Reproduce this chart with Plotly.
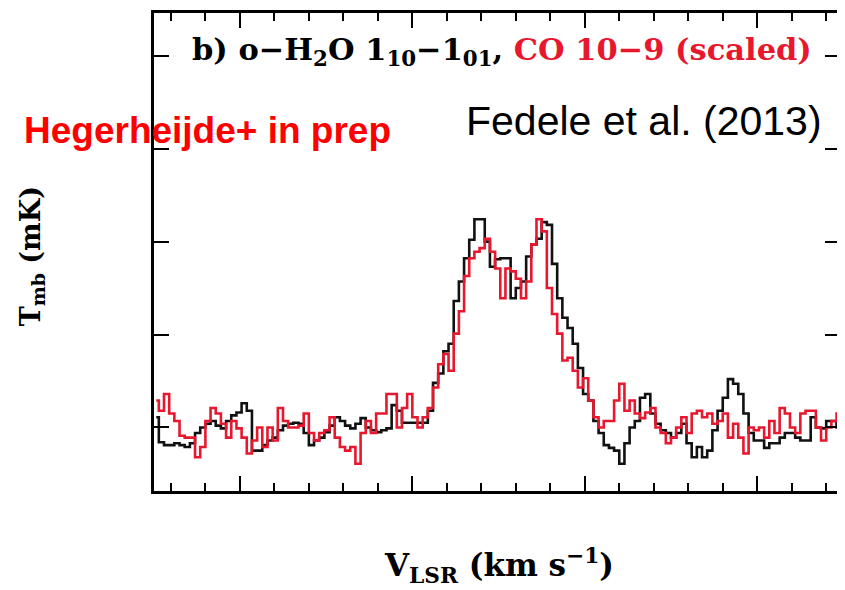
import plotly.graph_objects as go

# Spectral channel grid (km/s): channel centres
v_start = -7.425
dv = 0.15

# o-H2O 1_10-1_01 brightness temperature (mK)
t_h2o = [1.1, -1.6, -1.9, -1.9, -1.7, -1.9, -2.1, -1.7, -0.6, 0.0,
         0.4, 0.7, 0.2, -0.1, 0.7, 1.3, 1.6, 2.6, 1.8, -2.5,
         -2.5, -1.9, -1.4, -1.1, -0.3, 0.2, 0.4, 0.5, 0.4, -0.6,
         -1.9, -1.4, -1.1, -0.5, 0.2, 1.1, 0.7, 0.2, -0.1, 0.4,
         1.0, 0.0, -0.3, -0.5, -0.3, -0.1, 2.4, 1.8, 0.5, 0.5,
         0.5, 0.5, 0.5, 1.8, 4.8, 5.8, 8.2, 9.0, 13.6, 15.7,
         18.2, 20.2, 22.4, 22.4, 20.0, 17.3, 18.1, 18.2, 18.2, 13.9,
         15.0, 15.7, 18.4, 19.7, 20.3, 22.1, 21.8, 17.6, 13.9, 11.8,
         10.7, 9.0, 6.4, 3.6, 2.9, 0.7, -0.6, -1.9, -2.2, -2.5,
         -3.9, -1.7, 0.0, 0.7, 3.2, 3.6, 1.5, 0.4, -0.3, -0.6,
         -1.1, -0.6, 0.4, -1.7, -3.2, -2.1, -3.2, -2.5, -0.3, 1.8,
         3.2, 5.2, 4.7, 3.6, 1.5, -0.6, -1.4, -1.4, -2.2, -1.7,
         -1.7, -1.1, -0.6, -0.6, -1.1, -1.4, -1.4, 1.1, 0.0, -0.1,
         0.7, 0.7, 0.0]

# CO 10-9 (scaled) brightness temperature (mK)
t_co = [2.9, 1.8, 3.6, 1.5, 0.7, -0.9, -1.1, -1.1, -3.2, -2.1,
        0.7, 2.1, 1.5, 0.4, -1.1, 0.7, -0.1, -1.1, -2.8, -1.4,
        0.0, -2.1, 0.0, -1.4, 2.1, 0.7, 0.0, 0.0, 0.2, 1.5,
        -0.6, -1.4, -0.6, -0.3, 1.1, -1.1, -2.1, -2.5, -2.1, -3.9,
        -0.6, 0.7, -0.6, 1.5, 1.5, 3.6, 3.6, 0.0, 2.1, 3.6,
        1.1, 0.0, 1.1, 2.1, 4.3, 6.8, 7.9, 6.1, 10.1, 12.5,
        16.3, 18.2, 18.9, 19.3, 20.3, 18.9, 17.1, 13.9, 17.1, 16.8,
        16.0, 13.9, 15.7, 19.7, 22.4, 21.1, 15.0, 12.2, 10.1, 7.2,
        7.5, 6.1, 4.3, 5.3, 2.9, 1.1, 0.0, 0.7, 0.7, 2.9,
        4.7, 1.8, 2.9, 1.5, 1.0, 1.6, 2.1, 0.0, -0.6, -1.7,
        -1.1, 0.0, 1.1, -0.6, 1.5, 1.8, 1.1, 1.5, 0.4, 0.7,
        1.5, -1.1, 0.4, -1.1, -2.8, 0.0, -0.3, 0.0, -1.1, 0.7,
        -0.6, 2.1, 1.5, 0.0, -0.6, 1.5, 1.8, 1.8, 0.0, -1.4,
        0.0, 0.7, 1.5]

velocity = [round(v_start + dv * i, 3) for i in range(len(t_h2o))]

title_left = "b) o\u2212H<sub>2</sub>O 1<sub>10</sub>\u22121<sub>01</sub>, "
title_right = "CO 10\u22129 (scaled)"
ref_label = "Fedele et al. (2013)"
note_label = "Hegerheijde+ in prep"
x_title = "V<sub>LSR</sub> (km s<sup>\u22121</sup>)"
y_title = "T<sub>mb</sub> (mK)"

RED = "#e8172e"

fig = go.Figure()
fig.add_trace(go.Scatter(x=velocity, y=t_h2o, mode="lines",
                         line=dict(color="#111111", width=2.6, shape="hvh"),
                         showlegend=False, hoverinfo="skip"))
fig.add_trace(go.Scatter(x=velocity, y=t_co, mode="lines",
                         line=dict(color=RED, width=2.6, shape="hvh"),
                         showlegend=False, hoverinfo="skip"))

axis_common = dict(showline=True, linecolor="black", linewidth=2.5, mirror="ticks",
                   showgrid=False, zeroline=False, showticklabels=False,
                   ticks="inside", tickcolor="black", tickwidth=2.2, ticklen=15)

fig.update_xaxes(range=[-7.49, 12.40], tick0=0, dtick=5,
                 minor=dict(ticks="inside", dtick=1, ticklen=8, tickwidth=2.2,
                            tickcolor="black", showgrid=False),
                 **axis_common)
fig.update_yaxes(range=[-6.84, 44.6], tick0=0, dtick=10, **axis_common)

SERIF = "DejaVu Serif"
annotations = [
    dict(x=0.052, y=0.921, xref="paper", yref="paper", xanchor="left", yanchor="middle",
         text="<b>" + title_left + "<span style='color:" + RED + "'>" + title_right + "</span></b>",
         showarrow=False, font=dict(family=SERIF, size=30.5, color="black")),
    dict(x=0.977, y=0.775, xref="paper", yref="paper", xanchor="right", yanchor="middle",
         text=ref_label, showarrow=False,
         font=dict(family="Liberation Sans", size=41, color="black")),
    dict(x=-0.192, y=0.755, xref="paper", yref="paper", xanchor="left", yanchor="middle",
         text="<b>" + note_label + "</b>", showarrow=False,
         font=dict(family="Liberation Sans", size=37, color="#ff0000")),
    dict(x=0.503, y=-0.155, xref="paper", yref="paper", xanchor="center", yanchor="middle",
         text="<b>" + x_title + "</b>", showarrow=False,
         font=dict(family=SERIF, size=31, color="black")),
    dict(x=-0.177, y=0.49, xref="paper", yref="paper", xanchor="center", yanchor="middle",
         text="<b>" + y_title + "</b>", showarrow=False, textangle=-90,
         font=dict(family=SERIF, size=27, color="black")),
]

# page body has an 8px margin, so the figure is offset by 8px; size accordingly
fig.update_layout(width=837, height=582, margin=dict(l=146, r=3, t=2, b=99),
                  paper_bgcolor="white", plot_bgcolor="white",
                  annotations=annotations)

fig.write_html("out.html")
